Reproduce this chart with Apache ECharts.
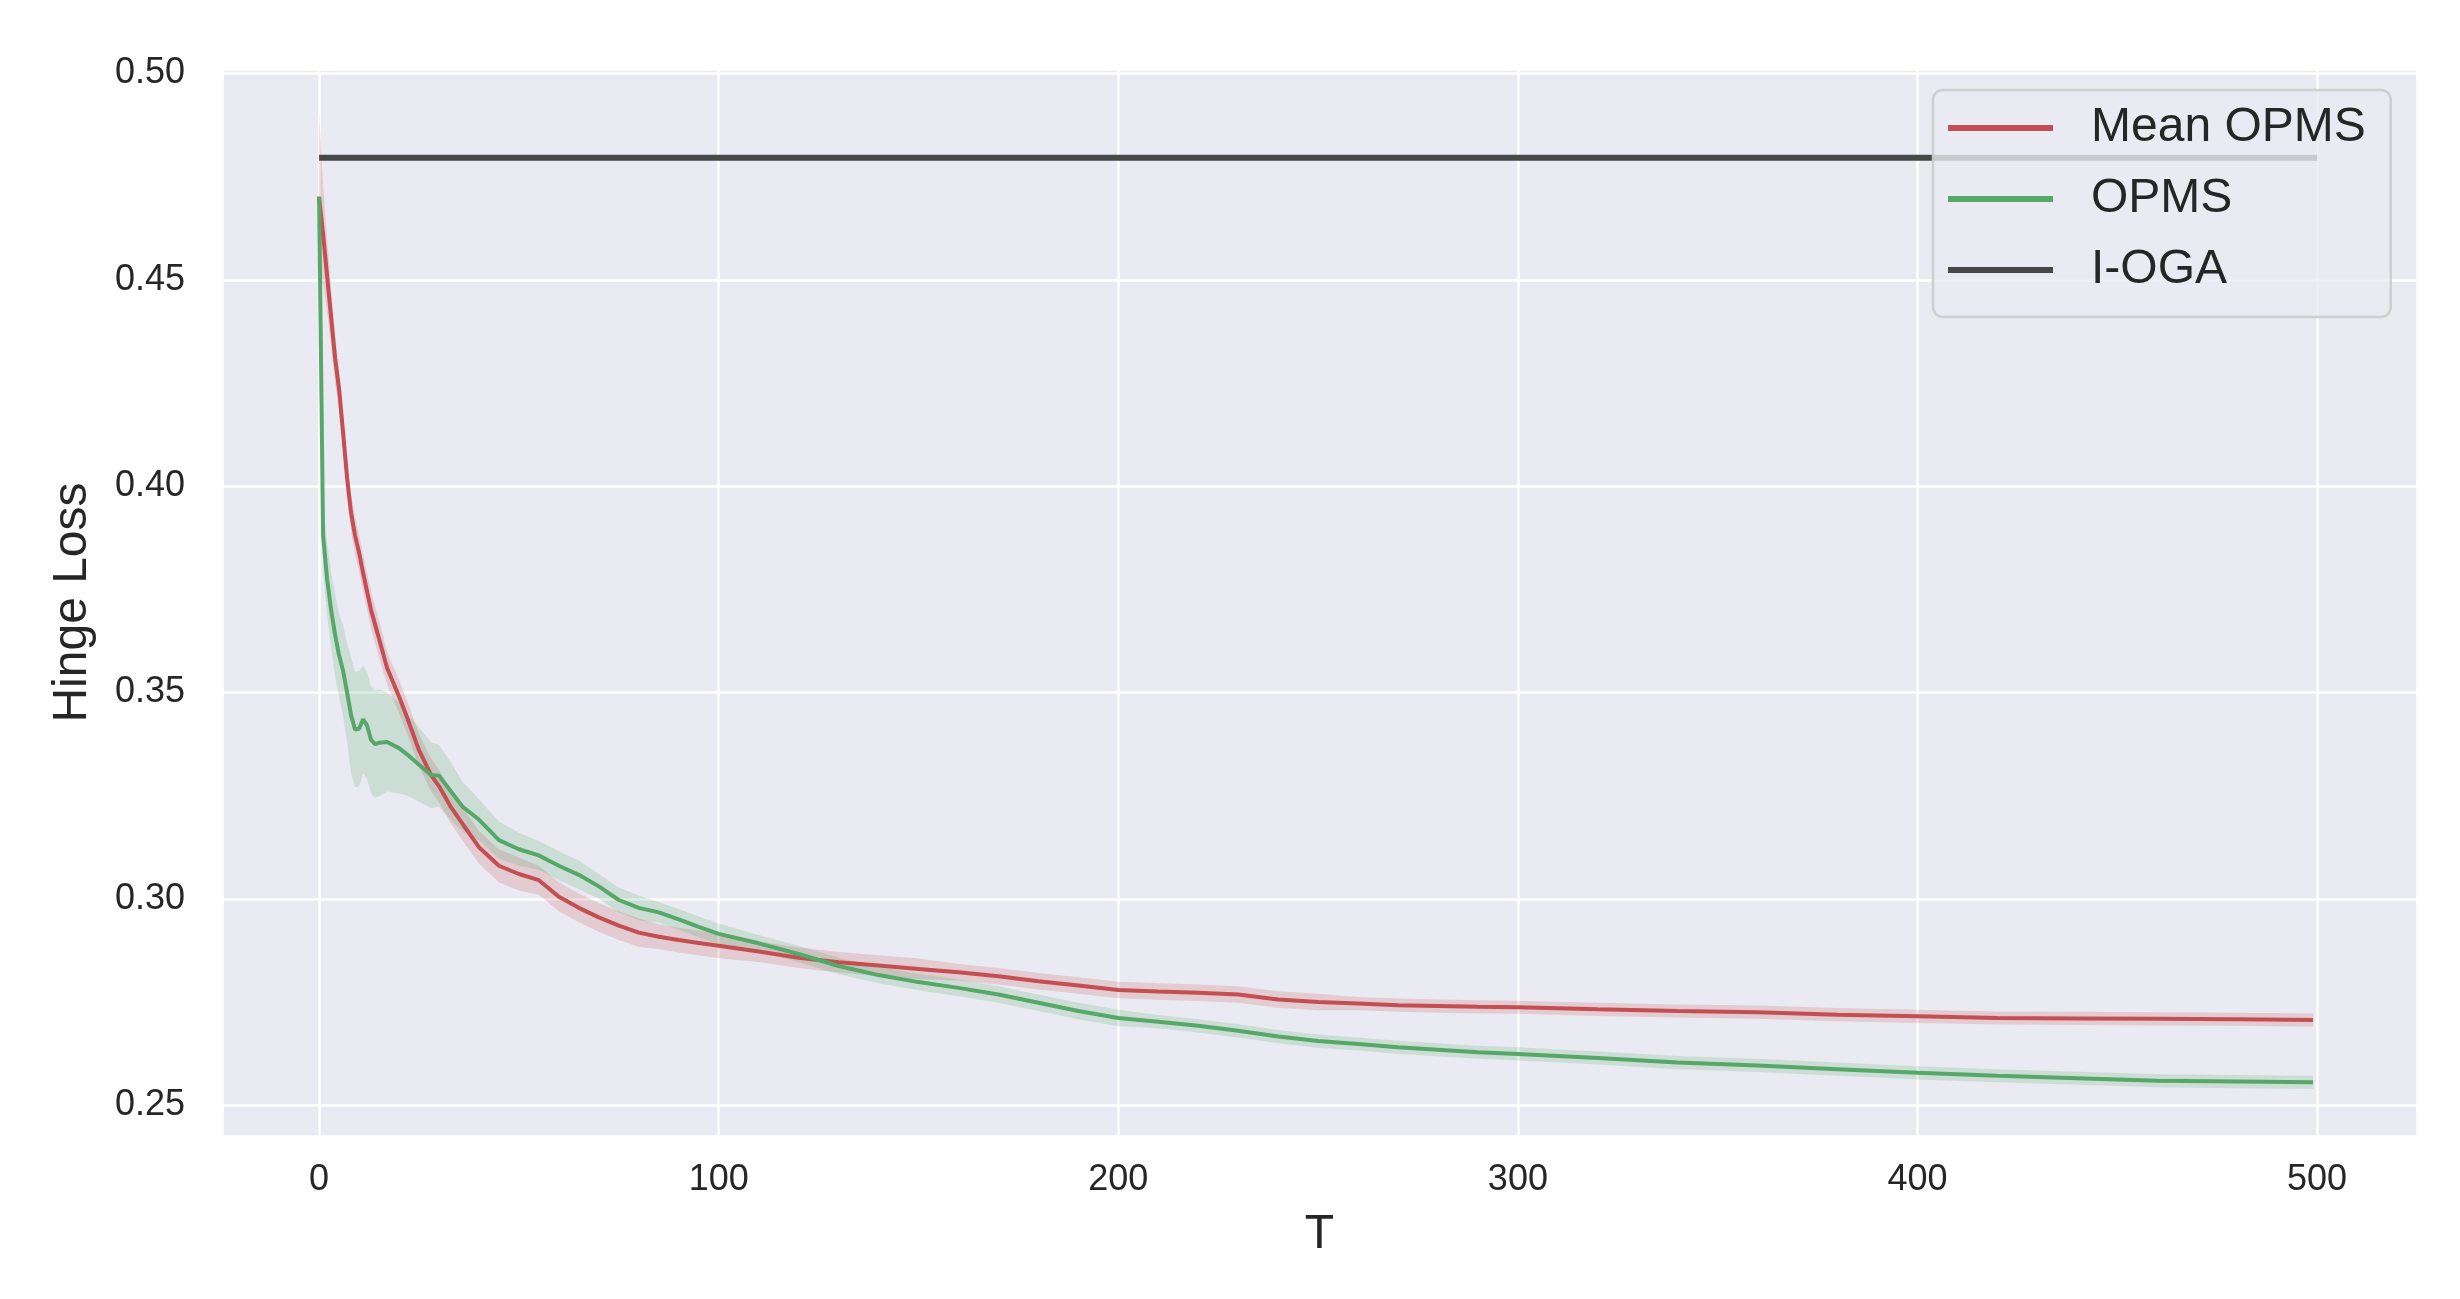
<!DOCTYPE html>
<html>
<head>
<meta charset="utf-8">
<title>Hinge Loss</title>
<script src="https://cdn.jsdelivr.net/npm/echarts@6/dist/echarts.min.js"></script>
<style>
  html, body { margin: 0; padding: 0; background: #ffffff; }
  #main { width: 2460px; height: 1299px; }
</style>
</head>
<body>
<div id="main"></div>
<script>
// time steps (T)
var steps = [0, 1, 2, 3, 4, 5, 6, 7, 8, 9, 10, 11, 12, 13, 14, 15,
    17, 20, 22, 25, 28, 30, 33, 36, 40,
    45, 50, 55, 60, 65, 70, 75, 80, 85, 90, 95, 100,
    110, 120, 130, 140, 150, 160, 170, 180, 190, 200, 210, 220, 230, 240, 250, 260, 270, 280, 290, 300,
    320, 340, 360, 380, 400, 420, 440, 460, 480,
    499];

// Mean OPMS
var meanOpms = [0.470, 0.461, 0.451, 0.441, 0.431, 0.4235, 0.413, 0.402, 0.3935, 0.388, 0.3839, 0.379, 0.3745, 0.370, 0.3665, 0.363,
    0.356, 0.349, 0.344, 0.336, 0.330, 0.3273, 0.3222, 0.318, 0.3125,
    0.308, 0.306, 0.3045, 0.3005, 0.2978, 0.2955, 0.2935, 0.2918, 0.2908, 0.2900, 0.2893, 0.2886,
    0.2872, 0.2857, 0.2846, 0.2838, 0.2830, 0.2822, 0.2812, 0.2800, 0.2790, 0.2779, 0.2775, 0.2772, 0.2768, 0.2756, 0.2750, 0.2746, 0.2742, 0.2740, 0.2738, 0.2737,
    0.2732, 0.2728, 0.2725, 0.2719, 0.2715, 0.2711, 0.2710, 0.2709, 0.2708,
    0.2706];
// half width of the shaded band round Mean OPMS
var meanOpmsBand = [0.020, 0.012, 0.009, 0.007, 0.006, 0.005, 0.0045, 0.0045, 0.0045, 0.0045, 0.0045, 0.0045, 0.0045, 0.0045, 0.0045, 0.0045,
    0.004, 0.004, 0.004, 0.004, 0.004, 0.004, 0.004, 0.004, 0.004,
    0.004, 0.004, 0.0035, 0.0035, 0.0035, 0.0035, 0.0035, 0.0035, 0.003, 0.003, 0.003, 0.003,
    0.0025, 0.0025, 0.0025, 0.0025, 0.0025, 0.002, 0.002, 0.002, 0.002, 0.002, 0.002, 0.002, 0.002, 0.002, 0.002, 0.0016, 0.0016, 0.0016, 0.0016, 0.0016,
    0.0016, 0.0016, 0.0016, 0.0016, 0.0016, 0.0016, 0.0016, 0.0016, 0.0016,
    0.0016];

// OPMS
var opms = [0.4702, 0.388, 0.3775, 0.370, 0.364, 0.359, 0.3553, 0.350, 0.3445, 0.341, 0.3412, 0.3435, 0.342, 0.3385, 0.3375, 0.3378,
    0.338, 0.3365, 0.335, 0.3325, 0.330, 0.3298, 0.326, 0.3222, 0.3192,
    0.3142, 0.312, 0.3105, 0.308, 0.3058, 0.303, 0.2997, 0.2978, 0.2967, 0.295, 0.2932, 0.2915,
    0.2892, 0.2866, 0.2837, 0.2815, 0.2798, 0.2784, 0.2768, 0.2748, 0.2728, 0.2711, 0.2702, 0.2692, 0.2680, 0.2666, 0.2655, 0.2648, 0.2640, 0.2634, 0.2628, 0.2624,
    0.2614, 0.2603, 0.2596, 0.2587, 0.2578, 0.2571, 0.2565, 0.2559, 0.2557,
    0.2555];
var opmsBand = [0.004, 0.008, 0.009, 0.009, 0.010, 0.010, 0.011, 0.012, 0.014, 0.014, 0.014, 0.013, 0.013, 0.013, 0.013, 0.013,
    0.012, 0.011, 0.010, 0.009, 0.008, 0.0075, 0.007, 0.006, 0.005,
    0.0045, 0.004, 0.0035, 0.0035, 0.0035, 0.003, 0.003, 0.003, 0.0025, 0.0025, 0.0025, 0.0025,
    0.002, 0.002, 0.002, 0.002, 0.002, 0.002, 0.002, 0.002, 0.002, 0.002, 0.0016, 0.0016, 0.0016, 0.0016, 0.0016, 0.0016, 0.0016, 0.0016, 0.0016, 0.0016,
    0.0016, 0.0016, 0.0016, 0.0016, 0.0016, 0.0016, 0.0016, 0.0016, 0.0016,
    0.0016];

// I-OGA is flat
var iogaSteps = [0, 500];
var ioga = [0.4796, 0.4796];

var legendNames = ['Mean OPMS', 'OPMS', 'I-OGA'];

function pairs(xs, ys) {
    var out = [];
    for (var i = 0; i < xs.length; i++) out.push([xs[i], ys[i]]);
    return out;
}

// shaded band drawn as one polygon, points mapped through the axes
function bandSeries(name, mean, band, fill) {
    var rows = [];
    for (var i = 0; i < steps.length; i++) {
        rows.push([steps[i], mean[i] - band[i], mean[i] + band[i]]);
    }
    return {
        name: name,
        type: 'custom',
        silent: true,
        clip: true,
        encode: {x: 0, y: [1, 2]},
        data: rows,
        renderItem: function (params, api) {
            if (params.dataIndex !== 0) return null;
            var pts = [], j;
            for (j = 0; j < rows.length; j++) pts.push(api.coord([rows[j][0], rows[j][2]]));
            for (j = rows.length - 1; j >= 0; j--) pts.push(api.coord([rows[j][0], rows[j][1]]));
            return {
                type: 'polygon',
                shape: {points: pts},
                style: {fill: fill, stroke: null}
            };
        }
    };
}

var font = 'Liberation Sans';
var chart = echarts.init(document.getElementById('main'));

chart.setOption({
    animation: false,
    backgroundColor: '#ffffff',
    grid: {
        left: 222, right: 43, top: 69, bottom: 163,
        show: true, backgroundColor: '#eaeaf2', borderWidth: 0
    },
    legend: {
        data: legendNames,
        orient: 'vertical',
        left: 1933, top: 90,
        padding: [13, 25, 22, 15],
        itemGap: 21,
        icon: 'rect',
        itemWidth: 105, itemHeight: 6,
        backgroundColor: 'rgba(234,234,242,0.8)',
        borderColor: 'rgba(204,204,204,0.9)',
        borderWidth: 2.5,
        borderRadius: 10,
        textStyle: {fontFamily: font, fontSize: 48, color: '#262626', lineHeight: 50, padding: [0, 0, 0, 33]}
    },
    xAxis: {
        type: 'value',
        min: -24.3, max: 525,
        name: 'T',
        nameLocation: 'middle',
        nameGap: 75,
        nameTextStyle: {fontFamily: font, fontSize: 48, color: '#262626'},
        axisLine: {show: false},
        axisTick: {show: false},
        axisLabel: {
            fontFamily: font, fontSize: 36, color: '#262626', margin: 26,
            showMinLabel: false, showMaxLabel: false
        },
        splitLine: {show: true, lineStyle: {color: '#ffffff', width: 2.5}}
    },
    yAxis: {
        type: 'value',
        min: 0.2425, max: 0.5011,
        name: 'Hinge Loss',
        nameLocation: 'middle',
        nameGap: 125,
        nameTextStyle: {fontFamily: font, fontSize: 48, color: '#262626'},
        axisLine: {show: false},
        axisTick: {show: false},
        axisLabel: {
            fontFamily: font, fontSize: 36, color: '#262626', margin: 37,
            showMinLabel: false, showMaxLabel: false,
            formatter: function (v) { return v.toFixed(2); }
        },
        splitLine: {show: true, lineStyle: {color: '#ffffff', width: 2.5}}
    },
    series: [
        bandSeries('meanBand', meanOpms, meanOpmsBand, 'rgba(196,78,82,0.2)'),
        bandSeries('opmsBand', opms, opmsBand, 'rgba(85,168,104,0.2)'),
        {
            name: 'Mean OPMS', type: 'line', symbol: 'none',
            data: pairs(steps, meanOpms),
            itemStyle: {color: '#c44e52'},
            lineStyle: {color: '#c44e52', width: 4}
        },
        {
            name: 'OPMS', type: 'line', symbol: 'none',
            data: pairs(steps, opms),
            itemStyle: {color: '#55a868'},
            lineStyle: {color: '#55a868', width: 4}
        },
        {
            name: 'I-OGA', type: 'line', symbol: 'none',
            data: pairs(iogaSteps, ioga),
            itemStyle: {color: '#484848'},
            lineStyle: {color: '#484848', width: 6}
        }
    ]
});
</script>
</body>
</html>
